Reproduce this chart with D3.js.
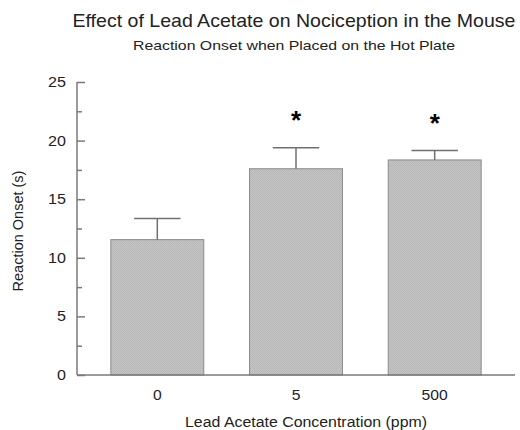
<!DOCTYPE html>
<html><head><meta charset="utf-8">
<script src="https://cdn.jsdelivr.net/npm/d3@7"></script>
<style>body{margin:0;background:#fff}svg{display:block}text{font-family:"Liberation Sans",Arial,sans-serif}</style>
</head><body>
<svg id="c" width="520" height="430"></svg>
<script>
const categories = ["0", "5", "500"];
const means = [11.55, 17.6, 18.35];
const errors = [1.8, 1.8, 0.8];
const significant = [false, true, true];
const yTicks = [0, 5, 10, 15, 20, 25];
const yMinorTicks = [2.5, 7.5, 12.5, 17.5, 22.5];

const svg = d3.select("#c");
const x0 = 77, x1 = 515, yTop = 82, yBot = 375;
const x = d3.scaleBand().domain(categories).range([x0, x1]).paddingInner(0.33).paddingOuter(0.244);
const y = d3.scaleLinear().domain([0, 25]).range([yBot, yTop]);

const defs = svg.append("defs");
const pat = defs.append("pattern").attr("id", "dither").attr("patternUnits", "userSpaceOnUse").attr("width", 2).attr("height", 2);
pat.append("rect").attr("width", 2).attr("height", 2).attr("fill", "#c2c2c2");
pat.append("rect").attr("width", 1).attr("height", 1).attr("fill", "#b7b7b7");
pat.append("rect").attr("x", 1).attr("y", 1).attr("width", 1).attr("height", 1).attr("fill", "#bcbcbc");

const axisColor = "#7a7a7a";
const textColor = "#222";

function widen(sel, factor) {
  sel.each(function () {
    const w = this.getComputedTextLength();
    d3.select(this).attr("textLength", w * factor).attr("lengthAdjust", "spacingAndGlyphs");
  });
}

// Title
svg.append("text").attr("x", 294).attr("y", 27).attr("text-anchor", "middle")
  .attr("font-size", 19).attr("fill", textColor)
  .attr("textLength", 443).attr("lengthAdjust", "spacingAndGlyphs")
  .text("Effect of Lead Acetate on Nociception in the Mouse");
svg.append("text").attr("x", 294).attr("y", 50).attr("text-anchor", "middle")
  .attr("font-size", 13.5).attr("fill", textColor)
  .attr("textLength", 322).attr("lengthAdjust", "spacingAndGlyphs")
  .text("Reaction Onset when Placed on the Hot Plate");

// Bars
svg.append("g").selectAll("rect").data(categories).join("rect")
  .attr("x", d => x(d)).attr("width", x.bandwidth())
  .attr("y", (d, i) => y(means[i])).attr("height", (d, i) => y(0) - y(means[i]))
  .attr("fill", "url(#dither)").attr("stroke", "#8a8a8a").attr("stroke-width", 1);

// Error bars
const eg = svg.append("g").attr("stroke", "#707070").attr("stroke-width", 1.5);
categories.forEach((c, i) => {
  const cx = x(c) + x.bandwidth() / 2;
  eg.append("line").attr("x1", cx).attr("x2", cx).attr("y1", y(means[i])).attr("y2", y(means[i] + errors[i]));
  eg.append("line").attr("x1", cx - x.bandwidth() / 4).attr("x2", cx + x.bandwidth() / 4)
    .attr("y1", y(means[i] + errors[i])).attr("y2", y(means[i] + errors[i]));
});

// Asterisks
categories.forEach((c, i) => {
  if (!significant[i]) return;
  svg.append("text").attr("x", x(c) + x.bandwidth() / 2).attr("y", y(means[i] + errors[i]) - 19)
    .attr("text-anchor", "middle").attr("font-size", 26).attr("font-weight", "bold")
    .attr("fill", "#000").text("*");
});

// Y axis
const yAxis = svg.append("g").attr("transform", `translate(${x0},0)`)
  .call(d3.axisRight(y).tickValues(yTicks).tickSize(8).tickFormat(""));
yAxis.select(".domain").attr("stroke", axisColor).attr("stroke-width", 1.5).attr("d", `M0,${yTop}V${yBot}`);
yAxis.selectAll(".tick line").attr("stroke", axisColor).attr("stroke-width", 1.5);
const yMinor = svg.append("g").attr("transform", `translate(${x0},0)`)
  .call(d3.axisRight(y).tickValues(yMinorTicks).tickSize(5).tickFormat(""));
yMinor.select(".domain").remove();
yMinor.selectAll(".tick line").attr("stroke", axisColor).attr("stroke-width", 1.5);
const yLabels = svg.append("g").selectAll("text").data(yTicks).join("text")
  .attr("x", 66).attr("y", d => y(d) + 5).attr("text-anchor", "end")
  .attr("font-size", 14).attr("fill", textColor).text(d => d);
widen(yLabels, 1.15);

// X axis
const xAxis = svg.append("g").attr("transform", `translate(0,${yBot})`)
  .call(d3.axisBottom(x).tickSize(0).tickPadding(0));
xAxis.select(".domain").attr("stroke", axisColor).attr("stroke-width", 1.5).attr("d", `M${x0},0H${x1}`);
xAxis.selectAll(".tick text").attr("font-size", 14).attr("fill", textColor)
  .attr("font-family", '"Liberation Sans",Arial,sans-serif').attr("dy", null).attr("y", 25);
widen(xAxis.selectAll(".tick text"), 1.12);

// Axis titles
svg.append("text").attr("x", 306).attr("y", 427).attr("text-anchor", "middle")
  .attr("font-size", 14).attr("fill", textColor)
  .attr("textLength", 242).attr("lengthAdjust", "spacingAndGlyphs")
  .text("Lead Acetate Concentration (ppm)");
svg.append("text").attr("transform", "translate(23,231) rotate(-90)").attr("text-anchor", "middle")
  .attr("font-size", 14.5).attr("fill", textColor).text("Reaction Onset (s)");
</script>
</body></html>
